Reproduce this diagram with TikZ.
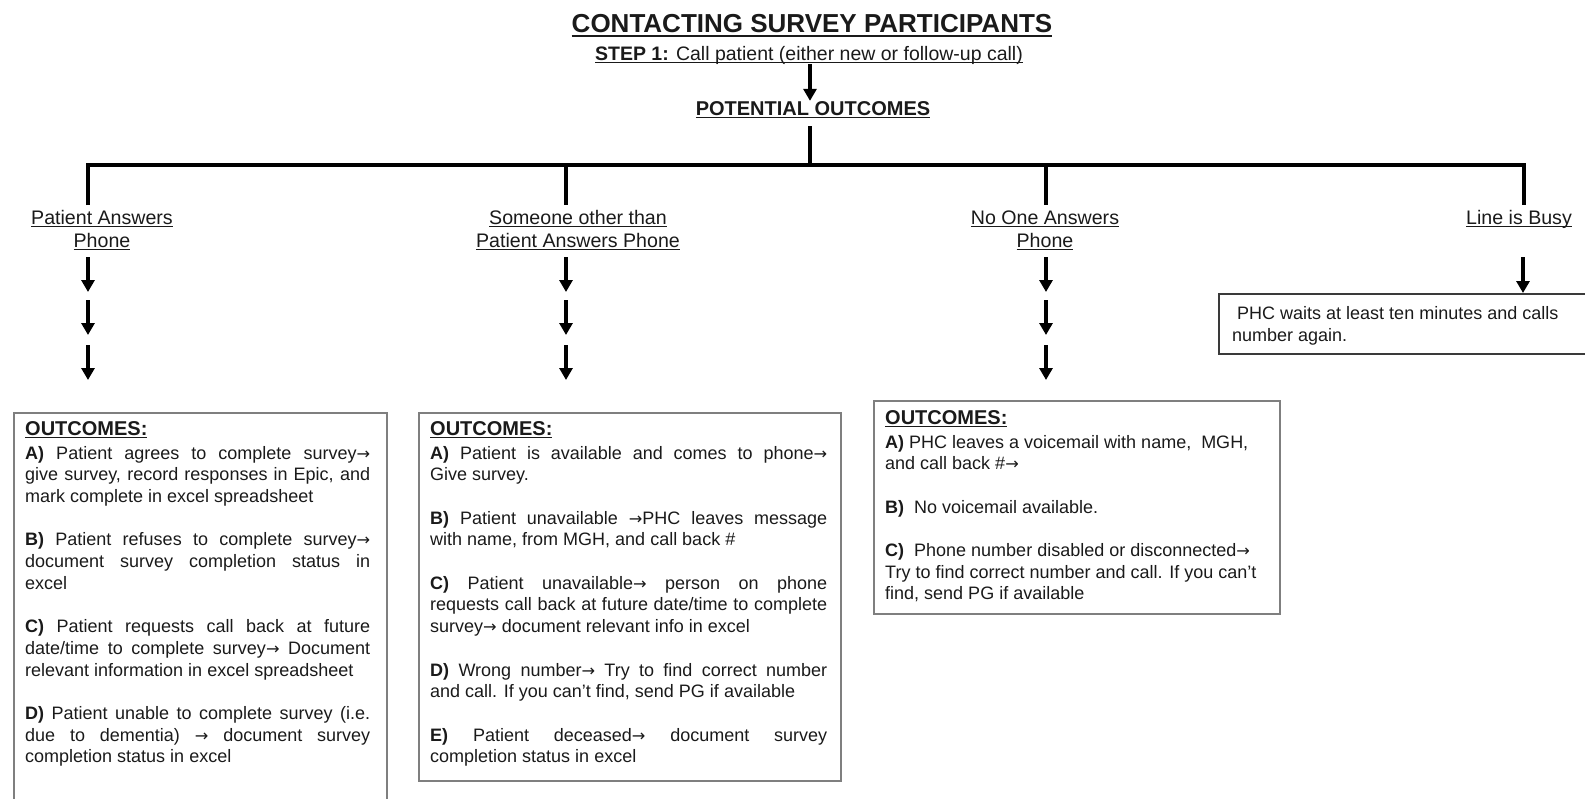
\documentclass[tikz,border=0pt]{standalone}
\usepackage{fontspec}
\setmainfont{Liberation Sans}
\newfontfamily\arrowfont[Scale=0.9]{DejaVu Sans}
\usetikzlibrary{arrows.meta}
\definecolor{bordergray}{HTML}{7F7F7F}
\definecolor{busyline}{HTML}{3A3A3A}
\definecolor{ink}{HTML}{1A1A1A}
\newcommand\ulx[3]{\leavevmode\setbox0\hbox{#3}\rlap{\rule[-#1]{\wd0}{#2}}\box0}
\newcommand\ul[1]{\ulx{3pt}{1.2pt}{#1}}
\newcommand\ulB[1]{\ulx{4.5pt}{2pt}{#1}}
\newcommand\jl[1]{\makebox[\linewidth][s]{#1}}
\newcommand\ra{{\arrowfont →}}
\newcommand\twol[2]{\begin{tabular}[t]{@{}c@{}}\ul{#1}\\\ul{#2}\end{tabular}}
\newcommand\boxfont{\fontsize{18pt}{21.7pt}\selectfont}
\newcommand\outhead{\leavevmode{\fontsize{20pt}{21.7pt}\selectfont\bfseries\ul{OUTCOMES:}}\\[2.3pt]}
\tikzset{
  txt/.style={inner sep=0pt, anchor=base west, text=ink},
  lab/.style={inner sep=0pt, anchor=base, text=ink, font=\fontsize{19.6pt}{23pt}\selectfont},
  tree/.style={line width=4pt, line join=miter, draw=black},
  arr/.style={line width=3.2pt, draw=black, -{Triangle[width=13pt,length=12pt]}},
  obox/.style={draw=bordergray, line width=1.5pt, inner sep=0pt, anchor=north west},
  busybox/.style={draw=busyline, line width=2pt, inner sep=0pt, anchor=north west}
}
\begin{document}
\begin{tikzpicture}[x=1pt,y=-1pt]
\useasboundingbox (0,0) rectangle (1585,798);

% headings
\node[inner sep=0pt, anchor=base, text=ink, font=\fontsize{26pt}{30pt}\selectfont\bfseries] (title) at (812,32) {\ulB{CONTACTING SURVEY PARTICIPANTS}};
\node[inner sep=0pt, anchor=base, text=ink, font=\fontsize{19.5pt}{23pt}\selectfont] (step) at (809,60) {\ul{\textbf{STEP 1:} Call patient (either new or follow-up call)}};
\node[inner sep=0pt, anchor=base, text=ink, font=\fontsize{20pt}{23pt}\selectfont\bfseries] (pot) at (813,115) {\ul{POTENTIAL OUTCOMES}};

% tree coordinates
\coordinate (hub) at (810,165);
\coordinate (c1) at (88,165);
\coordinate (c2) at (566,165);
\coordinate (c3) at (1046,165);
\coordinate (c4) at (1524,165);
\coordinate (d1) at (88,205);
\coordinate (d2) at (566,205);
\coordinate (d3) at (1046,205);
\coordinate (d4) at (1524,205);

\draw[arr] (step.south -| hub) -- (pot.north -| hub);
\draw[tree] (pot.south -| hub) ++(0,8) -- (hub);
\draw[tree] (d1) -- (c1) -- (c4) -- (d4);
\draw[tree] (c2) -- (d2);
\draw[tree] (c3) -- (d3);

% branch labels
\node[lab] (l1) at (102,224) {\twol{Patient Answers}{Phone}};
\node[lab] (l2) at (578,224) {\twol{Someone other than}{Patient Answers Phone}};
\node[lab] (l3) at (1045,224) {\twol{No One Answers}{Phone}};
\node[lab] (l4) at (1519,224) {\ul{Line is Busy}};

% boxes
\node[obox, minimum width=373pt, minimum height=418pt] (b1) at (13,412) {};
\node[obox, minimum width=422pt, minimum height=368pt] (b2) at (418,412) {};
\node[obox, minimum width=406pt, minimum height=213pt] (b3) at (873,400) {};
\node[busybox, minimum width=400pt, minimum height=60pt] (b4) at (1218,293) {};

% stacked arrows
\foreach \n/\x in {1/88,2/566,3/1046}{
  \coordinate (p\n a) at (\x,257); \coordinate (q\n a) at (\x,292);
  \coordinate (p\n b) at (\x,300); \coordinate (q\n b) at (\x,335);
  \coordinate (p\n c) at (\x,345); \coordinate (q\n c) at (\x,380);
  \draw[arr] (p\n a) -- (q\n a);
  \draw[arr] (p\n b) -- (q\n b);
  \draw[arr] (p\n c) -- (q\n c);
}
\coordinate (p4) at (1523,257);
\draw[arr] (p4) -- (b4.north -| p4);

% box texts
\node[txt] (o1) at (25,435) {\parbox[t]{345pt}{\boxfont
\outhead
\jl{\textbf{A)} Patient agrees to complete survey\ra}\\
\jl{give survey, record responses in Epic, and}\\
mark complete in excel spreadsheet\\[21.7pt]
\jl{\textbf{B)} Patient refuses to complete survey\ra}\\
\jl{document survey completion status in}\\
excel\\[21.7pt]
\jl{\textbf{C)} Patient requests call back at future}\\
\jl{date/time to complete survey\ra{} Document}\\
relevant information in excel spreadsheet\\[21.7pt]
\jl{\textbf{D)} Patient unable to complete survey (i.e.}\\
\jl{due to dementia) \ra{} document survey}\\
completion status in excel}};

\node[txt] (o2) at (430,435) {\parbox[t]{397pt}{\boxfont
\outhead
\jl{\textbf{A)} Patient is available and comes to phone\ra}\\
Give survey.\\[21.7pt]
\jl{\textbf{B)} Patient unavailable \ra PHC leaves message}\\
with name, from MGH, and call back \#\\[21.7pt]
\jl{\textbf{C)} Patient unavailable\ra{} person on phone}\\
\jl{requests call back at future date/time to complete}\\
survey\ra{} document relevant info in excel\\[21.7pt]
\jl{\textbf{D)} Wrong number\ra{} Try to find correct number}\\
and call. If you can't find, send PG if available\\[21.7pt]
\jl{\textbf{E)} Patient deceased\ra{} document survey}\\
completion status in excel}};

\node[txt] (o3) at (885,424) {\parbox[t]{385pt}{\boxfont
\outhead
\textbf{A)} PHC leaves a voicemail with name,\ \ MGH,\\
and call back \#\ra\\[21.7pt]
\textbf{B)}\ \ No voicemail available.\\[21.7pt]
\textbf{C)}\ \ Phone number disabled or disconnected\ra\\
Try to find correct number and call. If you can't\\
find, send PG if available}};

\node[txt] (o4) at (1232,319) {\parbox[t]{350pt}{\fontsize{18pt}{22pt}\selectfont
\hspace*{5pt}PHC waits at least ten minutes and calls\\
number again.}};
\end{tikzpicture}
\end{document}
